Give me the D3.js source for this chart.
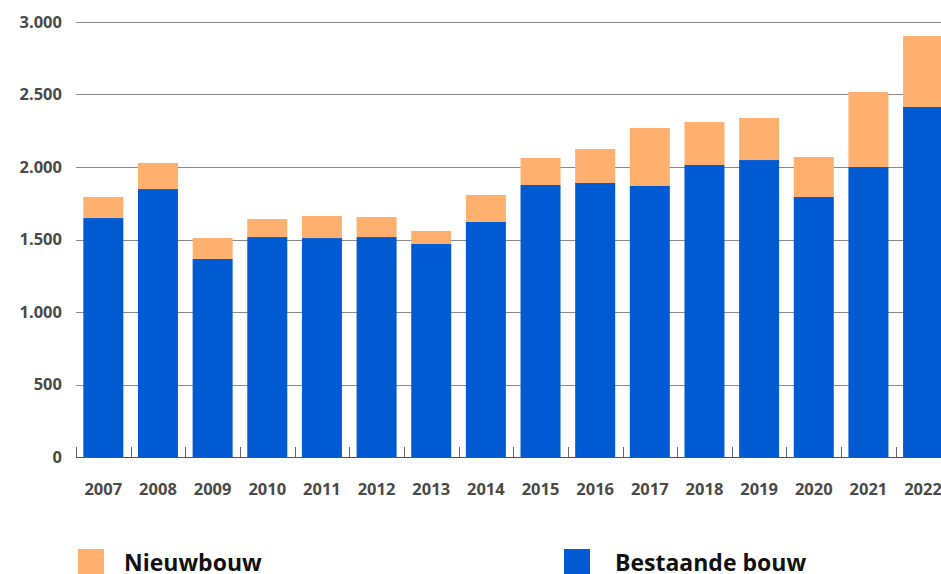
<!DOCTYPE html>
<html lang="nl">
<head>
  <meta charset="UTF-8">
  <title>Bestaande bouw en nieuwbouw</title>
  <style>
    body {
      margin: 0;
      padding: 0;
      background: #fff;
      font-family: "Open Sans", Lato, sans-serif;
    }
    .grid line {
      stroke: #8a8a8a;
      stroke-width: 1;
    }
    .tick-label {
      font-size: 16.5px;
      font-weight: 700;
      fill: #4a4a4a;
    }
    .legend-text {
      font-size: 23px;
      font-weight: 700;
      fill: #111;
    }
  </style>
</head>
<body>
  <svg id="chart" width="941" height="574"></svg>
  <script src="https://d3js.org/d3.v7.min.js"></script>
  <script>
    // Data
    const years = ['2007', '2008', '2009', '2010', '2011', '2012', '2013', '2014',
                   '2015', '2016', '2017', '2018', '2019', '2020', '2021', '2022'];
    const bestaandeBouw = [1648, 1848, 1366, 1517, 1510, 1517, 1469, 1621,
                           1876, 1890, 1869, 2014, 2048, 1793, 2000, 2414];
    const nieuwbouw = [145, 180, 144, 124, 152, 138, 90, 186,
                       186, 234, 400, 296, 290, 276, 517, 489];
    const yTicks = [0, 500, 1000, 1500, 2000, 2500, 3000];
    const seriesNames = ['Bestaande bouw', 'Nieuwbouw'];
    const seriesColors = ['#005bd3', '#ffaf6e'];

    const width = 941;
    const plotLeft = 76;
    const step = 54.65;
    const plotTop = 22;
    const plotBottom = 457;

    const svg = d3.select('#chart');

    const x = d3.scaleBand()
      .domain(years)
      .range([plotLeft, plotLeft + step * years.length])
      .paddingInner(0.268)
      .paddingOuter(0.134);

    const y = d3.scaleLinear()
      .domain([0, 3000])
      .range([plotBottom, plotTop]);

    const fmt = d => d3.format(',')(d).replace(/,/g, '.');

    // gridlines
    svg.append('g')
      .attr('class', 'grid')
      .selectAll('line')
      .data(yTicks.filter(d => d > 0))
      .enter().append('line')
        .attr('x1', plotLeft)
        .attr('x2', width)
        .attr('y1', d => Math.round(y(d)) + 0.5)
        .attr('y2', d => Math.round(y(d)) + 0.5);

    // y labels
    svg.append('g')
      .selectAll('text')
      .data(yTicks)
      .enter().append('text')
        .attr('class', 'tick-label')
        .attr('x', 62)
        .attr('y', d => y(d))
        .attr('dy', '0.35em')
        .attr('text-anchor', 'end')
        .text(fmt);

    // stacked bars
    const rows = years.map((yr, i) => ({
      year: yr,
      'Bestaande bouw': bestaandeBouw[i],
      'Nieuwbouw': nieuwbouw[i]
    }));
    const stack = d3.stack().keys(seriesNames)(rows);

    svg.append('g')
      .selectAll('g')
      .data(stack)
      .enter().append('g')
        .attr('fill', (d, i) => seriesColors[i])
      .selectAll('rect')
      .data(d => d)
      .enter().append('rect')
        .attr('x', d => x(d.data.year))
        .attr('width', x.bandwidth())
        .attr('y', d => y(d[1]))
        .attr('height', d => y(d[0]) - y(d[1]));

    // x axis line with ticks at band edges
    svg.append('line')
      .attr('x1', plotLeft)
      .attr('x2', width)
      .attr('y1', plotBottom + 0.5)
      .attr('y2', plotBottom + 0.5)
      .attr('stroke', '#555');

    svg.append('g')
      .selectAll('line')
      .data(years)
      .enter().append('line')
        .attr('x1', (d, i) => Math.round(plotLeft + i * step) + 0.5)
        .attr('x2', (d, i) => Math.round(plotLeft + i * step) + 0.5)
        .attr('y1', plotBottom - 10)
        .attr('y2', plotBottom)
        .attr('stroke', '#666');

    svg.append('g')
      .selectAll('text')
      .data(years)
      .enter().append('text')
        .attr('class', 'tick-label')
        .attr('x', d => x(d) + x.bandwidth() / 2)
        .attr('y', 495)
        .attr('text-anchor', 'middle')
        .text(d => d);

    // legend
    const legendItems = [
      { name: 'Nieuwbouw', color: seriesColors[1], x: 78, gap: 46 },
      { name: 'Bestaande bouw', color: seriesColors[0], x: 564, gap: 51 }
    ];
    const legend = svg.append('g')
      .selectAll('g')
      .data(legendItems)
      .enter().append('g')
        .attr('transform', d => `translate(${d.x},549)`);

    legend.append('rect')
      .attr('width', 26)
      .attr('height', 26)
      .attr('fill', d => d.color);

    legend.append('text')
      .attr('class', 'legend-text')
      .attr('x', d => d.gap)
      .attr('y', 22)
      .text(d => d.name);
  </script>
</body>
</html>
